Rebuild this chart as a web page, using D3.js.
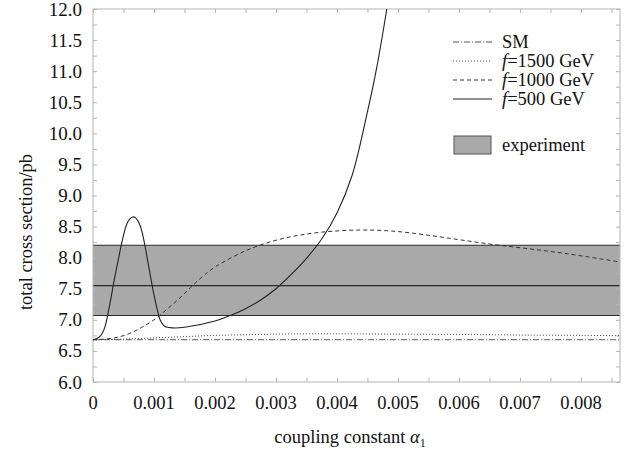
<!DOCTYPE html>
<html>
<head>
<meta charset="utf-8">
<script src="https://cdn.jsdelivr.net/npm/d3@7"></script>
<style>
  body { margin: 0; background: #fff; }
</style>
</head>
<body>
<div id="chart"></div>
<script>
// coupling constant values (x) and cross sections (pb)
const smX = [0, 0.002, 0.004, 0.006, 0.00864];
const smY = [6.68, 6.68, 6.68, 6.68, 6.68];

const f1500X = [0, 0.0005, 0.001, 0.0015, 0.002, 0.0025, 0.003, 0.0035, 0.004, 0.005, 0.006, 0.007, 0.008, 0.00864];
const f1500Y = [6.68, 6.69, 6.71, 6.73, 6.75, 6.76, 6.77, 6.775, 6.775, 6.77, 6.765, 6.755, 6.75, 6.745];

const f1000X = [0, 0.0002, 0.0004, 0.0006, 0.0008, 0.001, 0.0012, 0.0014, 0.0016, 0.0018, 0.002, 0.0025,
  0.003, 0.0035, 0.004, 0.0045, 0.005, 0.0055, 0.006, 0.0065, 0.007, 0.0075, 0.008, 0.00864];
const f1000Y = [6.68, 6.69, 6.72, 6.78, 6.88, 7.00, 7.16, 7.33, 7.52, 7.70, 7.85, 8.11,
  8.28, 8.38, 8.43, 8.445, 8.42, 8.36, 8.29, 8.22, 8.16, 8.10, 8.03, 7.93];

const f500X = [0, 0.0001, 0.00015, 0.0002, 0.00025, 0.0003, 0.00035, 0.0004, 0.00045, 0.0005, 0.00055,
  0.0006, 0.00065, 0.0007, 0.00075, 0.0008, 0.00085, 0.0009, 0.00095, 0.001, 0.00105, 0.0011, 0.00115,
  0.0012, 0.0013, 0.0015, 0.002, 0.00225, 0.0025, 0.00275, 0.003, 0.00325, 0.0035, 0.00375, 0.004,
  0.00425, 0.0045, 0.00465, 0.0048, 0.0049];
const f500Y = [6.68, 6.72, 6.78, 6.90, 7.12, 7.38, 7.65, 7.90, 8.14, 8.36, 8.53,
  8.62, 8.655, 8.64, 8.57, 8.43, 8.20, 7.93, 7.66, 7.40, 7.18, 7.00, 6.92,
  6.885, 6.87, 6.88, 6.98, 7.07, 7.18, 7.32, 7.50, 7.73, 7.99, 8.30, 8.72,
  9.33, 10.35, 11.05, 11.9, 12.55];

// experimental band: central value and limits
const expLow = 7.07, expMid = 7.55, expHigh = 8.2;

const xTicks = [0, 0.001, 0.002, 0.003, 0.004, 0.005, 0.006, 0.007, 0.008];
const yTicks = [6.0, 6.5, 7.0, 7.5, 8.0, 8.5, 9.0, 9.5, 10.0, 10.5, 11.0, 11.5, 12.0];

const legendNames = ['SM', '=1500 GeV', '=1000 GeV', '=500 GeV'];

const w = 629, h = 451;
const padL = 93, padR = 620, padT = 9, padB = 382;
const serif = '"Liberation Serif", "Times New Roman", Times, "DejaVu Serif", serif';

const svg = d3.select('#chart').append('svg')
  .attr('width', w)
  .attr('height', h)
  .attr('font-family', serif)
  .style('font-family', serif);

const x = d3.scaleLinear().domain([0, 0.00864]).range([padL, padR]);
const y = d3.scaleLinear().domain([6, 12]).range([padB, padT]);

svg.append('defs').append('clipPath').attr('id', 'clip')
  .append('rect')
  .attr('x', padL).attr('y', padT)
  .attr('width', padR - padL).attr('height', padB - padT);

// band
svg.append('rect')
  .attr('x', padL)
  .attr('y', y(expHigh))
  .attr('width', padR - padL)
  .attr('height', y(expLow) - y(expHigh))
  .attr('fill', '#a9a9a9');

[expLow, expMid, expHigh].forEach(v => {
  svg.append('line')
    .attr('x1', padL).attr('x2', padR)
    .attr('y1', y(v)).attr('y2', y(v))
    .attr('stroke', '#2a2a2a')
    .attr('stroke-width', 1.2);
});

// frame + inward ticks
const frameColor = '#b4b4b4';
svg.append('rect')
  .attr('x', padL).attr('y', padT)
  .attr('width', padR - padL).attr('height', padB - padT)
  .attr('fill', 'none')
  .attr('stroke', frameColor)
  .attr('stroke-width', 1);

const xMinor = d3.range(0, 0.0086, 0.0005);
const yMinor = d3.range(6, 12.01, 0.25);

const xAxisB = d3.axisTop(x).tickValues(xMinor).tickSize(4).tickFormat('');
const xAxisT = d3.axisBottom(x).tickValues(xMinor).tickSize(4).tickFormat('');
const yAxisL = d3.axisRight(y).tickValues(yMinor).tickSize(4).tickFormat('');
const yAxisR = d3.axisLeft(y).tickValues(yMinor).tickSize(4).tickFormat('');

function styleTicks(g) {
  g.select('.domain').remove();
  g.selectAll('line').attr('stroke', frameColor);
}
svg.append('g').attr('transform', `translate(0,${padB})`).call(xAxisB).call(styleTicks);
svg.append('g').attr('transform', `translate(0,${padT})`).call(xAxisT).call(styleTicks);
svg.append('g').attr('transform', `translate(${padL},0)`).call(yAxisL).call(styleTicks);
svg.append('g').attr('transform', `translate(${padR},0)`).call(yAxisR).call(styleTicks);

// tick labels
svg.append('g').selectAll('text')
  .data(xTicks)
  .enter()
  .append('text')
  .attr('x', d => x(d))
  .attr('y', 409)
  .attr('text-anchor', 'middle')
  .attr('font-size', 18.5)
  .attr('fill', '#111')
  .text(d => d === 0 ? '0' : d3.format('.3f')(d));

svg.append('g').selectAll('text')
  .data(yTicks)
  .enter()
  .append('text')
  .attr('x', 82)
  .attr('y', d => y(d) + 6.5)
  .attr('text-anchor', 'end')
  .attr('font-size', 19)
  .attr('fill', '#111')
  .text(d => d.toFixed(1));

// axis titles
svg.append('text')
  .attr('transform', 'translate(32,232) rotate(-90)')
  .attr('text-anchor', 'middle')
  .attr('font-size', 18.5)
  .attr('fill', '#111')
  .text('total cross section/pb');

const xt = svg.append('text')
  .attr('x', 350)
  .attr('y', 443)
  .attr('text-anchor', 'middle')
  .attr('font-size', 18.5)
  .attr('fill', '#111');
xt.append('tspan').text('coupling constant ');
xt.append('tspan').attr('font-style', 'italic').text('α');
xt.append('tspan').attr('font-size', 12).attr('dy', 4).text('1');

// curves
const line = d3.line()
  .x(d => x(d[0]))
  .y(d => y(d[1]))
  .curve(d3.curveCatmullRom.alpha(0.5));

const series = [
  { xs: smX, ys: smY, dash: '6,2,1,2', color: '#444', width: 0.9 },
  { xs: f1500X, ys: f1500Y, dash: '1,2', color: '#444', width: 1 },
  { xs: f1000X, ys: f1000Y, dash: '4,3', color: '#333', width: 1 },
  { xs: f500X, ys: f500Y, dash: null, color: '#222', width: 1.1 }
];

const plot = svg.append('g').attr('clip-path', 'url(#clip)');
series.forEach(s => {
  plot.append('path')
    .datum(s.xs.map((v, i) => [v, s.ys[i]]))
    .attr('d', line)
    .attr('fill', 'none')
    .attr('stroke', s.color)
    .attr('stroke-width', s.width)
    .attr('stroke-dasharray', s.dash);
});

// legend
const legendY = [42, 61, 80, 99];
const legend = svg.append('g');
series.forEach((s, i) => {
  legend.append('line')
    .attr('x1', 453).attr('x2', 492)
    .attr('y1', legendY[i]).attr('y2', legendY[i])
    .attr('stroke', s.color)
    .attr('stroke-width', s.width)
    .attr('stroke-dasharray', s.dash);
  const t = legend.append('text')
    .attr('x', 502)
    .attr('y', legendY[i] + 6)
    .attr('font-size', 18.5)
    .attr('fill', '#111');
  if (i > 0) t.append('tspan').attr('font-style', 'italic').text('f');
  t.append('tspan').text(legendNames[i]);
});
legend.append('rect')
  .attr('x', 454).attr('y', 136)
  .attr('width', 37).attr('height', 18)
  .attr('fill', '#a9a9a9')
  .attr('stroke', '#555')
  .attr('stroke-width', 1);
legend.append('text')
  .attr('x', 502)
  .attr('y', 151)
  .attr('font-size', 18.5)
  .attr('fill', '#111')
  .text('experiment');
</script>
</body>
</html>
